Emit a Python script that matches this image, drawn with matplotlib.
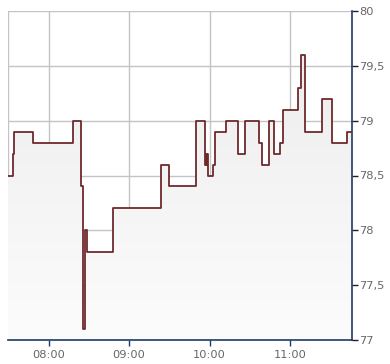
import numpy as np
import matplotlib
matplotlib.use("Agg")
import matplotlib.pyplot as plt
from matplotlib.ticker import FixedLocator, FuncFormatter

# minutes relative to 08:00, value starts at that time (step "post")
times = [-30.2, -26.2, -25.7, -11.3, 18.5, 24.4, 25.9, 27.2, 28.9, 47.7,
         84.1, 90.0, 110.2, 116.9, 117.3, 117.7, 118.1, 118.5, 118.9, 122.8,
         124.3, 132.5, 141.5, 146.7, 157.1, 159.3, 164.6, 168.3, 172.8, 175.0,
         186.2, 188.2, 191.4, 203.6, 211.1, 222.7, 226.2]
values = [78.5, 78.7, 78.9, 78.8, 79.0, 78.4, 77.1, 78.0, 77.8, 78.2,
          78.6, 78.4, 79.0, 78.6, 78.7, 78.6, 78.7, 78.6, 78.5, 78.6,
          78.9, 79.0, 78.7, 79.0, 78.8, 78.6, 79.0, 78.7, 78.8, 79.1,
          79.3, 79.6, 78.9, 79.2, 78.8, 78.9, 78.9]
y_ticks = [77, 77.5, 78, 78.5, 79, 79.5, 80]
x_ticks = [0, 60, 120, 180]
x_labels = ["08:00", "09:00", "10:00", "11:00"]

fig = plt.figure(figsize=(3.9, 3.64), dpi=100)
ax = fig.add_axes([8/390, 24/364, 344/390, 329/364])
xmin, xmax = -30.2, 226.2
ymin, ymax = 77, 80
ax.set_xlim(xmin, xmax)
ax.set_ylim(ymin, ymax)

# gradient fill under the step line
fb = ax.fill_between(times, values, ymin, step="post", facecolor="none", edgecolor="none")
grad = np.linspace(0, 1, 256).reshape(-1, 1)
from matplotlib.colors import LinearSegmentedColormap
cmap = LinearSegmentedColormap.from_list("g", ["#fcfcfc", "#ebebeb"])
im = ax.imshow(grad, extent=[xmin, xmax, ymin, ymax], origin="lower", aspect="auto",
               cmap=cmap, zorder=1)
im.set_clip_path(fb.get_paths()[0], transform=ax.transData)

ax.step(times, values, where="post", color="#6e2a2c", lw=1.3, zorder=3)

# grid
ax.xaxis.set_major_locator(FixedLocator(x_ticks))
ax.set_xticklabels(x_labels)
ax.yaxis.set_major_locator(FixedLocator(y_ticks))
ax.yaxis.set_major_formatter(FuncFormatter(lambda v, p: ("%g" % v).replace(".", ",")))
ax.grid(True, color="#c4c4c4", lw=1.0, zorder=0)
ax.set_axisbelow(True)
ax.axvline(xmin, color="#c4c4c4", lw=1.0, zorder=0)

ax.yaxis.tick_right()
for s in ["left", "top"]:
    ax.spines[s].set_visible(False)
for s in ["right", "bottom"]:
    ax.spines[s].set_color("#1d3a63")
    ax.spines[s].set_linewidth(1.2)
ax.tick_params(axis="y", which="major", length=4, width=1, color="#222222",
               labelcolor="#666666", labelsize=8.2, pad=1)
ax.tick_params(axis="x", which="major", length=4, width=1, color="#1d3a63",
               labelcolor="#666666", labelsize=8.2, pad=3)
ax.set_facecolor("white")

fig.savefig("out.png", dpi=100)
